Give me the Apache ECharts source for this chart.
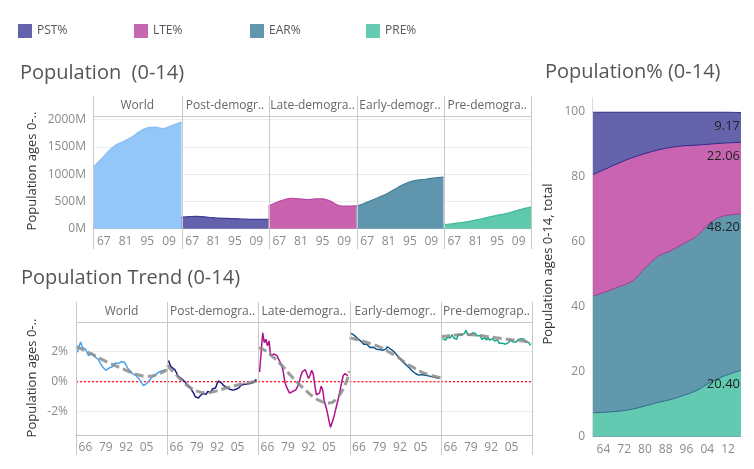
<!DOCTYPE html>
<html><head><meta charset="utf-8">
<script src="https://cdn.jsdelivr.net/npm/echarts@6/dist/echarts.min.js"></script>
<style>html,body{margin:0;padding:0;background:#fff}#c{width:754px;height:469px}</style>
</head><body><div id="c"></div><script>
// ---------- DATA ----------
const legendNames = ['PST%', 'LTE%', 'EAR%', 'PRE%'];
const topHeaders = ['World', 'Post-demogr..', 'Late-demogra..', 'Early-demogr..', 'Pre-demogra..'];
const trendHeaders = ['World', 'Post-demogra..', 'Late-demogra..', 'Early-demogr..', 'Pre-demograp..'];

// Population ages 0-14 (millions)
const popYears = [1960, 1965, 1970, 1975, 1980, 1985, 1990, 1995, 2000, 2005, 2010, 2017];
const popWorld = [1127, 1263, 1420, 1537, 1603, 1677, 1781, 1848, 1860, 1835, 1878, 1951];
const popPost  = [212, 220, 225, 218, 203, 192, 188, 183, 178, 172, 170, 170];
const popLate  = [414, 480, 530, 554, 548, 532, 545, 548, 505, 430, 414, 420];
const popEarly = [408, 462, 518, 578, 640, 722, 800, 860, 888, 906, 925, 944];
const popPre   = [73, 88, 105, 125, 152, 182, 215, 245, 272, 308, 350, 395];
const popTicks = [1967, 1981, 1995, 2009];
const popYTicks = [0, 500, 1000, 1500, 2000];

// Population trend (% growth)
const trendYears = [1961,1962,1963,1964,1965,1966,1967,1968,1969,1970,1971,1972,1973,1974,1975,1976,1977,1978,1979,1980,
  1981,1982,1983,1984,1985,1986,1987,1988,1989,1990,1991,1992,1993,1994,1995,1996,1997,1998,1999,2000,
  2001,2002,2003,2004,2005,2006,2007,2008,2009,2010,2011,2012,2013,2014,2015,2016,2017];
const trendWorld = [1.96,2.4,2.65,2.28,2.39,2.17,2.07,1.74,1.8,1.91,1.78,1.65,1.63,1.5,1.4,1.15,0.98,0.85,0.76,0.85,
  0.91,0.95,0.98,1.1,1.25,1.3,1.22,1.25,1.33,1.35,1.3,1.09,0.9,0.76,0.65,0.54,0.5,0.43,0.32,0.22,
  0.05,-0.11,-0.26,-0.24,-0.12,0.0,0.11,0.25,0.35,0.43,0.5,0.58,0.65,0.7,0.74,0.76,0.78];
const trendPost = [1.41,1.1,0.95,0.85,0.8,0.6,0.38,0.28,0.22,0.11,0.05,-0.05,-0.2,-0.3,-0.43,-0.6,-0.76,-1.0,-1.13,-1.09,
  -0.95,-0.87,-0.78,-0.8,-0.83,-0.65,-0.72,-0.68,-0.48,-0.54,-0.4,-0.1,0.05,0.0,-0.11,-0.25,-0.33,-0.38,-0.43,-0.5,
  -0.61,-0.56,-0.54,-0.5,-0.45,-0.39,-0.25,-0.2,-0.17,-0.2,-0.15,-0.17,-0.12,-0.11,-0.06,-0.04,0.17];
const trendLate = [0.65,1.96,3.26,2.61,2.83,2.39,2.72,1.74,1.63,1.85,1.96,1.74,1.52,1.41,1.09,0.65,0.0,-0.33,-0.54,-0.76,
  -0.83,-0.65,-0.61,-0.54,-0.33,-0.11,0.33,0.65,0.76,0.8,0.87,0.22,0.43,0.76,0.54,-0.22,-0.87,-0.98,-0.76,-0.3,
  -0.54,-1.3,-1.65,-2.07,-2.6,-3.04,-2.93,-2.39,-1.96,-1.52,-1.09,-0.6,-0.05,0.4,0.54,0.54,0.4];
const trendEarly = [3.22,3.15,3.09,3.0,2.9,2.8,2.72,2.6,2.5,2.61,2.5,2.38,2.28,2.25,2.3,2.3,2.17,2.2,2.15,2.07,
  2.1,2.15,2.17,2.33,2.28,2.18,2.13,2.02,1.92,1.78,1.65,1.55,1.45,1.3,1.2,1.12,1.0,0.92,0.8,0.7,
  0.62,0.53,0.48,0.44,0.44,0.48,0.45,0.43,0.41,0.39,0.37,0.34,0.32,0.29,0.27,0.25,0.22];
const trendPre = [2.87,2.8,2.78,2.95,3.04,2.93,3.15,2.93,3.04,2.83,3.15,3.04,3.09,3.12,3.22,3.43,3.15,3.1,3.09,3.26,
  3.15,3.22,3.04,2.93,3.09,2.83,2.78,2.93,2.78,2.93,2.78,2.65,2.87,2.72,2.75,2.78,2.57,2.65,2.57,2.61,
  2.5,2.43,2.61,2.78,2.65,2.65,2.78,2.65,2.8,2.93,2.87,2.93,2.83,2.65,2.72,2.61,2.43];
// polynomial trend lines
const fitYears = [1960, 1965, 1970, 1975, 1980, 1985, 1990, 1995, 2000, 2005, 2010, 2015, 2018];
const fitWorld = [2.35, 2.1, 1.85, 1.57, 1.3, 1.07, 0.85, 0.63, 0.45, 0.36, 0.42, 0.62, 0.8];
const fitPost  = [1.1, 0.55, 0.02, -0.4, -0.66, -0.74, -0.65, -0.5, -0.35, -0.22, -0.1, 0.0, 0.08];
const fitLate  = [2.29, 2.05, 1.6, 1.1, 0.5, -0.05, -0.55, -1.0, -1.3, -1.42, -1.1, -0.25, 0.7];
const fitEarly = [2.93, 2.8, 2.65, 2.48, 2.28, 1.98, 1.68, 1.3, 0.98, 0.68, 0.48, 0.33, 0.26];
const fitPre   = [3.0, 3.07, 3.12, 3.14, 3.13, 3.08, 3.0, 2.93, 2.87, 2.8, 2.75, 2.66, 2.58];
const zeroLine = [[1960, 0], [2018, 0]];
const trendTicks = [1966, 1979, 1992, 2005];
const trendYTicks = [-2, 0, 2];

// Population% share (stacked bottom -> top: PRE, EAR, LTE, PST)
const shareYears = [1960, 1965, 1970, 1975, 1980, 1985, 1990, 1995, 2000, 2005, 2010, 2017];
const sharePRE = [7.3, 7.5, 7.8, 8.4, 9.4, 10.5, 11.4, 12.7, 14.2, 16.6, 18.5, 20.40];
const shareEAR = [36.0, 37.1, 38.4, 39.4, 42.5, 45.0, 45.9, 46.8, 47.6, 49.2, 49.4, 48.20];
const shareLTE = [37.4, 37.9, 38.1, 38.1, 35.3, 32.8, 31.8, 30.1, 28.0, 24.3, 22.5, 22.06];
const sharePST = [19.3, 17.5, 15.7, 14.1, 12.8, 11.7, 10.9, 10.4, 10.2, 9.9, 9.6, 9.17];
const shareTicks = [1964, 1972, 1980, 1988, 1996, 2004, 2012];

// ---------- CHART ----------
const FONT = '"Open Sans", sans-serif';
const zip = (xs, ys) => xs.map((x, i) => [x, ys[i]]);
const yy = v => String(v).slice(2);

const grids = [], xAxes = [], yAxes = [], series = [], graphics = [];
const hl = (x1, y1, x2, y2, c, z) => ({type: 'line', silent: true, z: z || 100,
  shape: {x1, y1, x2, y2}, style: {stroke: c || '#c8c8c8', lineWidth: 1}});
const tx = (x, y, text, o) => ({type: 'text', silent: true, z: 100, x, y,
  style: Object.assign({text, fontFamily: FONT, fontSize: 12, fill: '#666', align: 'left', verticalAlign: 'middle'}, o || {})});

// top facet chart
const TB = [93, 181.5, 268.5, 356.5, 443.5, 531];
const topData = [popWorld, popPost, popLate, popEarly, popPre];
const topFill = ['#93c6f9', '#6462ad', '#c963b0', '#5f96ad', '#5fc9ae'];
const topLine = ['#86bdf5', '#3f3c98', '#bb4aa0', '#467f9b', '#3dba96'];
for (let i = 0; i < 5; i++) {
  const g = grids.length;
  grids.push({left: TB[i], top: 116, width: TB[i + 1] - TB[i], height: 112.7});
  xAxes.push({type: 'value', gridIndex: g, min: 1960, max: 2017,
    axisLine: {show: true, lineStyle: {color: '#c4c4c4'}}, axisTick: {show: false, customValues: popTicks},
    splitLine: {show: false},
    axisLabel: {customValues: popTicks, formatter: yy, color: '#8a8a8a', fontSize: 12, fontFamily: FONT, margin: 7}});
  yAxes.push({type: 'value', gridIndex: g, min: 0, max: 2064,
    axisLine: {show: false}, axisTick: {show: false, customValues: popYTicks},
    splitLine: {show: true, lineStyle: {color: '#ececec'}},
    axisLabel: {show: i === 0, customValues: popYTicks, formatter: v => v + 'M', color: '#8a8a8a', fontSize: 12, fontFamily: FONT, margin: 7}});
  series.push({type: 'line', xAxisIndex: g, yAxisIndex: g, data: zip(popYears, topData[i]), smooth: 0.35,
    symbol: 'none', lineStyle: {color: topLine[i], width: 1.2}, areaStyle: {color: topFill[i], opacity: 1}, silent: true});
  graphics.push(tx((TB[i] + TB[i + 1]) / 2, 106, topHeaders[i], {align: 'center'}));
}
TB.forEach(x => graphics.push(hl(Math.round(x) + 0.5, 96, Math.round(x) + 0.5, 249)));
graphics.push(hl(93, 116.5, 531, 116.5));

// trend facet chart
const TT = [76, 167, 258, 349.5, 441, 532];
const trData = [trendWorld, trendPost, trendLate, trendEarly, trendPre];
const fitData = [fitWorld, fitPost, fitLate, fitEarly, fitPre];
const trColor = ['#4ca2f0', '#1b1a7e', '#b0128d', '#0d5482', '#16a885'];
for (let i = 0; i < 5; i++) {
  const g = grids.length;
  grids.push({left: TT[i], top: 322, width: TT[i + 1] - TT[i], height: 113});
  xAxes.push({type: 'value', gridIndex: g, min: 1960, max: 2018,
    axisLine: {show: true, onZero: false, lineStyle: {color: '#c4c4c4'}}, axisTick: {show: false, customValues: trendTicks},
    splitLine: {show: false},
    axisLabel: {customValues: trendTicks, formatter: yy, color: '#8a8a8a', fontSize: 12, fontFamily: FONT, margin: 7}});
  yAxes.push({type: 'value', gridIndex: g, min: -3.55, max: 3.98,
    axisLine: {show: false}, axisTick: {show: false, customValues: trendYTicks},
    splitLine: {show: true, lineStyle: {color: '#ececec'}},
    axisLabel: {show: i === 0, customValues: trendYTicks, formatter: v => v + '%', color: '#8a8a8a', fontSize: 12, fontFamily: FONT, margin: 8}});
  series.push({type: 'line', xAxisIndex: g, yAxisIndex: g, data: zeroLine, symbol: 'none', silent: true,
    lineStyle: {color: '#ff0010', width: 1.2, type: [2, 2]}, z: 2});
  series.push({type: 'line', xAxisIndex: g, yAxisIndex: g, data: zip(trendYears, trData[i]), symbol: 'none', silent: true,
    lineStyle: {color: trColor[i], width: 1.5}, z: 3});
  series.push({type: 'line', xAxisIndex: g, yAxisIndex: g, data: zip(fitYears, fitData[i]), symbol: 'none', smooth: true, silent: true,
    lineStyle: {color: 'rgba(140,140,140,0.85)', width: 3, type: [9, 4]}, z: 4});
  graphics.push(tx((TT[i] + TT[i + 1]) / 2, 312, trendHeaders[i], {align: 'center'}));
}
TT.forEach(x => graphics.push(hl(Math.round(x) + 0.5, 302, Math.round(x) + 0.5, 455)));
graphics.push(hl(76, 322.5, 532, 322.5));

// right stacked-share chart: cumulative tops drawn from the top band down,
// each area filled to the baseline so the next one covers it
const g3 = grids.length;
grids.push({left: 593, top: 112, width: 148, height: 324.5});
xAxes.push({type: 'value', gridIndex: g3, min: 1960, max: 2017,
  axisLine: {show: true, lineStyle: {color: '#dcdcdc'}}, axisTick: {show: false, customValues: shareTicks}, splitLine: {show: false},
  axisLabel: {customValues: shareTicks, formatter: yy, color: '#8a8a8a', fontSize: 12, fontFamily: FONT, margin: 7}});
yAxes.push({type: 'value', gridIndex: g3, min: 0, max: 100, interval: 20,
  axisLine: {show: false}, axisTick: {show: false}, splitLine: {show: true, lineStyle: {color: '#e6e6e6'}},
  axisLabel: {color: '#8a8a8a', fontSize: 12, fontFamily: FONT, margin: 8}});
const bands = [
  {name: 'PRE%', d: sharePRE, fill: '#63c9b0', line: '#2f6d90'},
  {name: 'EAR%', d: shareEAR, fill: '#6198ae', line: '#a83a92'},
  {name: 'LTE%', d: shareLTE, fill: '#c965b0', line: '#2c2a86'},
  {name: 'PST%', d: sharePST, fill: '#6663ad', line: '#2c2a86'}
];
const cum = shareYears.map(() => 0);
const bandSeries = bands.map(b => {
  const n = shareYears.length;
  const data = shareYears.map((x, i) => { cum[i] += b.d[i]; return [x, +cum[i].toFixed(3)]; });
  return {type: 'line', name: b.name, xAxisIndex: g3, yAxisIndex: g3, data, symbol: 'none',
    smooth: 0.35, silent: true, itemStyle: {color: b.fill},
    endLabel: {show: true, formatter: b.d[n - 1].toFixed(2), align: 'right', verticalAlign: 'top', distance: 0,
      padding: [7, 1, 0, 0], color: '#222', fontSize: 13, fontFamily: FONT},
    lineStyle: {color: b.line, width: 1}, areaStyle: {color: b.fill, opacity: 1, origin: 'start'}};
});
bandSeries.reverse().forEach((s, k) => { s.z = 2 + k * 0.01; series.push(s); });
graphics.push(hl(592.5, 97, 592.5, 437, '#dcdcdc'));

// titles and axis titles
graphics.push(tx(20, 73, 'Population  (0-14)', {fontSize: 20, fill: '#555'}));
graphics.push(tx(21, 278, 'Population Trend (0-14)', {fontSize: 20, fill: '#555'}));
graphics.push(tx(545, 72, 'Population% (0-14)', {fontSize: 20, fill: '#555'}));
const vt = (x, y, t) => ({type: 'text', silent: true, z: 100, x, y, rotation: Math.PI / 2,
  style: {text: t, fontFamily: FONT, fontSize: 13, fill: '#333', align: 'center', verticalAlign: 'middle'}});
graphics.push(vt(32, 171, 'Population ages 0-..'));
graphics.push(vt(32, 378, 'Population ages 0-..'));
graphics.push(vt(548, 264, 'Population ages 0-14, total'));

// legend swatches + text
const legendColors = ['#6462ad', '#c966b1', '#6197ae', '#65cab2'];
legendNames.forEach((n, i) => {
  const x = 18 + i * 116;
  graphics.push({type: 'rect', silent: true, z: 100, shape: {x, y: 24, width: 14, height: 14}, style: {fill: legendColors[i]}});
  graphics.push(tx(x + 19, 31, n, {fill: '#555'}));
});

const chart = echarts.init(document.getElementById('c'));
chart.setOption({
  animation: false,
  grid: grids, xAxis: xAxes, yAxis: yAxes, series,
  graphic: graphics
});
</script></body></html>
